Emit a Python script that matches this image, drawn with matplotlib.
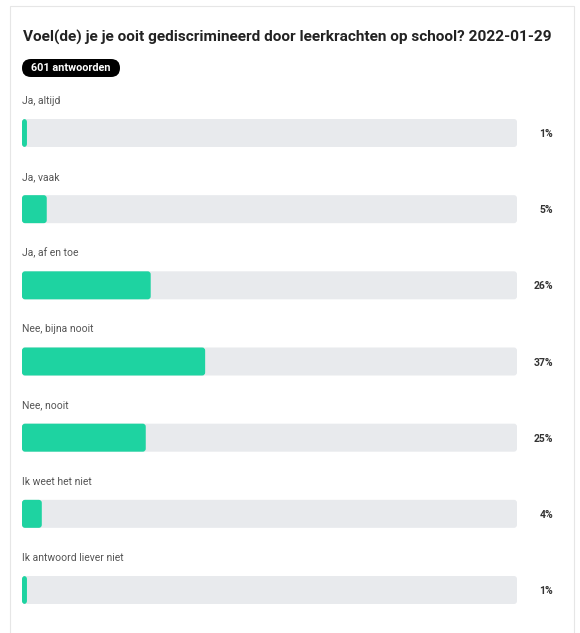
import matplotlib.pyplot as plt
from matplotlib.patches import FancyBboxPatch, Rectangle
from matplotlib.transforms import IdentityTransform

# --- DATA ---
TITLE = "Voel(de) je je ooit gediscrimineerd door leerkrachten op school? 2022-01-29"
N_ANSWERS = 601
options = ["Ja, altijd", "Ja, vaak", "Ja, af en toe", "Nee, bijna nooit",
           "Nee, nooit", "Ik weet het niet", "Ik antwoord liever niet"]
percentages = [1, 5, 26, 37, 25, 4, 1]

# --- STYLE ---
GREEN = "#1ed3a1"
TRACK = "#e8eaed"
W, H = 580, 633
plt.rcParams['font.family'] = ['Roboto', 'DejaVu Sans']

fig = plt.figure(figsize=(W / 100, H / 100), dpi=100)
fig.patch.set_facecolor("white")

# card outline
fig.patches.append(Rectangle((10 / W, -0.01), (574 - 10) / W, 1 - 6 / H + 0.01,
                             transform=fig.transFigure, fill=False,
                             edgecolor="#e6e6e6", linewidth=0.8))

fig.text(23 / W, 1 - 37 / H, TITLE, fontsize=11.1, fontweight='bold',
         color="#222222", va='center', ha='left')

# answer count badge (pill drawn in pixel units)
fig.patches.append(FancyBboxPatch((22, H - 77), 98, 18, transform=IdentityTransform(),
                                  boxstyle="round,pad=0,rounding_size=9",
                                  fc="black", ec="none"))
fig.text(71 / W, 1 - 68 / H, f"{N_ANSWERS} antwoorden", fontsize=7.8, fontweight='bold',
         color="white", va='center', ha='center')

# bars axes: x from 22 to 517 px, bar centers from 133 to 590 px
step = (590 - 133) / (len(options) - 1)
top_px = 133 - 0.6 * step
bot_px = 590 + 0.5 * step
ax = fig.add_axes([22 / W, 1 - bot_px / H, (517 - 22) / W, (bot_px - top_px) / H])
ax.set_xlim(0, 100)
ax.set_ylim(len(options) - 0.5, -0.6)
ax.axis('off')

y = list(range(len(options)))
bar_h = 28 / step
track = ax.barh(y, [100] * len(options), height=bar_h, color=TRACK)
fill = ax.barh(y, percentages, height=bar_h, color=GREEN)

# swap plain rectangles for slightly rounded ones
px_x = (517 - 22) / 100.0   # pixels per x unit
px_y = step                 # pixels per y unit
r = 3 / px_x
for bars, col in ((track, TRACK), (fill, GREEN)):
    for rect in bars:
        rect.set_visible(False)
        ax.add_patch(FancyBboxPatch((rect.get_x(), rect.get_y()), rect.get_width(),
                                    rect.get_height(),
                                    boxstyle=f"round,pad=0,rounding_size={r}",
                                    mutation_aspect=px_x / px_y,
                                    fc=col, ec='none'))

for i, (lab, p) in enumerate(zip(options, percentages)):
    ax.text(0, i - 32 / step, lab, fontsize=7.5, color="#555555",
            va='center', ha='left')
    ax.text(107.3, i + 1 / step, f"{p}%", fontsize=7.5, fontweight='bold', color="#333333",
            va='center', ha='right', clip_on=False)

fig.savefig("out.png", dpi=100)
